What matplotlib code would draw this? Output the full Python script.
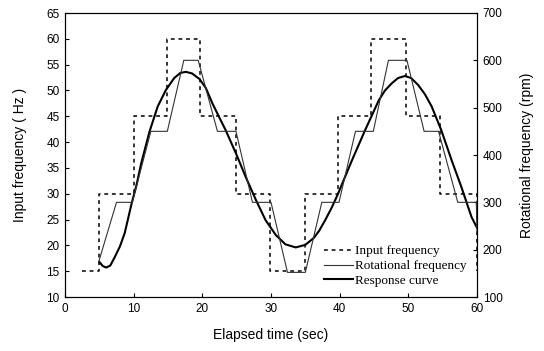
import matplotlib.pyplot as plt
import numpy as np

# input frequency (Hz), step signal
input_t = [2.5, 5.0, 5.0, 10.0, 10.0, 14.8, 14.8, 19.6, 19.6, 24.9, 24.9, 29.9, 29.9,
           34.9, 34.9, 39.7, 39.7, 44.5, 44.5, 49.7, 49.7, 54.6, 54.6, 60.0, 60.0]
input_hz = [15, 15, 30, 30, 45, 45, 60, 60, 45, 45, 30, 30, 15,
            15, 30, 30, 45, 45, 60, 60, 45, 45, 30, 30, 15]

# rotational frequency (rpm)
rot_t = [4.9, 7.5, 9.8, 12.5, 14.9, 17.3, 19.4, 22.2, 24.9, 27.3, 30.0, 32.4, 35.0,
         37.4, 39.9, 42.3, 44.9, 47.1, 49.8, 52.3, 54.4, 57.2, 59.9, 60.0]
rot_rpm = [174, 300, 300, 450, 450, 600, 600, 450, 450, 300, 300, 152, 152,
           300, 300, 450, 450, 600, 600, 450, 450, 300, 300, 240]

# response curve (Hz)
resp_t = [5.0, 5.5, 6.0, 6.6, 7.2, 8.0, 8.7, 9.7, 10.4, 11.1, 12.3, 13.5, 14.7, 15.9,
          16.8, 17.6, 18.5, 19.6, 20.5, 21.5, 22.5, 23.4, 24.9, 26.3, 27.8, 29.2,
          30.7, 32.1, 33.6, 35.0, 36.2, 37.0, 37.9, 38.8, 39.7, 40.7, 41.8, 43.7,
          45.7, 46.6, 47.6, 48.5, 49.5, 50.4, 51.4, 52.4, 53.4, 54.8, 56.3, 57.7,
          59.2, 60.0]
resp_hz = [16.8, 16.0, 15.7, 16.1, 17.6, 19.8, 22.4, 28.1, 31.6, 35.9, 42.0, 46.9, 50.1, 52.4,
           53.4, 53.6, 53.3, 52.2, 50.5, 47.4, 44.7, 42.3, 37.8, 33.3, 28.8, 24.9,
           22.0, 20.2, 19.6, 20.1, 21.4, 22.8, 24.9, 27.2, 29.8, 33.0, 36.5, 42.3,
           48.1, 50.0, 51.4, 52.4, 52.8, 52.4, 51.1, 49.3, 46.9, 42.3, 36.5, 31.4,
           25.5, 23.4]

plt.rcParams['font.family'] = ['Liberation Sans', 'DejaVu Sans']

fig = plt.figure(figsize=(5.44, 3.51), dpi=100)
ax = fig.add_axes([65 / 544, 1 - 297 / 351, (477 - 65) / 544, (297 - 13) / 351])
ax2 = ax.twinx()

l1, = ax.plot(input_t, input_hz, color='black', lw=1.1, dashes=(2.5, 2.5))
l3, = ax.plot(resp_t, resp_hz, color='black', lw=1.5)
l2, = ax2.plot(rot_t, rot_rpm, color='#333333', lw=0.8)

ax.set_xlim(0, 60)
ax.set_ylim(10, 65)
ax2.set_ylim(100, 700)
ax.set_xticks(np.arange(0, 61, 10))
ax.set_yticks(np.arange(10, 66, 5))
ax2.set_yticks(np.arange(100, 701, 100))

ax.tick_params(direction='in', labelsize=8.5, length=3, pad=4)
ax2.tick_params(direction='in', labelsize=8.5, length=3, pad=4)

ax.set_xlabel('Elapsed time (sec)', fontsize=10, labelpad=10)
ax.set_ylabel('Input frequency ( Hz )', fontsize=10, labelpad=14)
ax2.set_ylabel('Rotational frequency (rpm)', fontsize=10, labelpad=13)

ax2.legend([l1, l2, l3], ['Input frequency', 'Rotational frequency', 'Response curve'],
           loc='lower right', bbox_to_anchor=(1.0, 0.0), frameon=False,
           prop={'family': 'Liberation Serif', 'size': 9.5},
           handlelength=2.2, handletextpad=0.2, labelspacing=0.2, borderaxespad=0.35)

plt.savefig('out.png', dpi=100)
